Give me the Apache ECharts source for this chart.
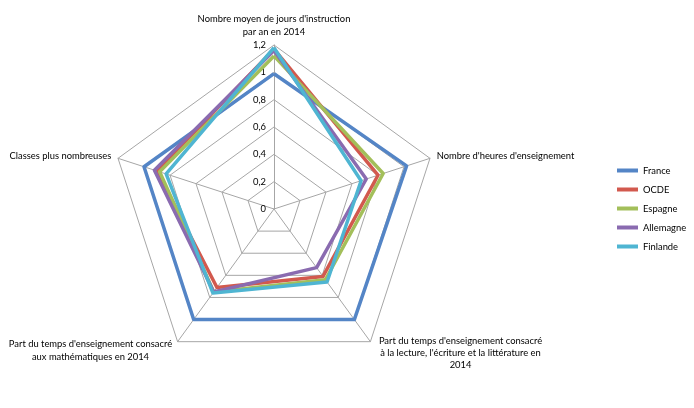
<!DOCTYPE html>
<html>
<head>
<meta charset="utf-8">
<script src="https://cdn.jsdelivr.net/npm/echarts@6/dist/echarts.min.js"></script>
<style>
  html, body { margin: 0; padding: 0; background: #fff; }
  #chart { width: 694px; height: 408px; }
</style>
</head>
<body>
<div id="chart"></div>
<script>
// axes, in ECharts order (top, then counter-clockwise)
var indicators = [
    "Nombre moyen de jours d'instruction\npar an en 2014",
    'Classes plus nombreuses',
    "Part du temps d'enseignement consacré\naux mathématiques en 2014",
    "Part du temps d'enseignement consacré\nà la lecture, l'écriture et la littérature en\n2014",
    "Nombre d'heures d'enseignement"
];
var countries = ['France', 'OCDE', 'Espagne', 'Allemagne', 'Finlande'];
var colors = ['#5485c6', '#d2594e', '#a3bf5a', '#8a6bb0', '#4fb5d2'];

var franceValues    = [0.99, 1.00, 1.00, 1.00, 1.02];
var ocdeValues      = [1.17, 0.90, 0.71, 0.61, 0.80];
var espagneValues   = [1.12, 0.88, 0.75, 0.64, 0.84];
var allemagneValues = [1.16, 0.92, 0.75, 0.53, 0.71];
var finlandeValues  = [1.18, 0.83, 0.76, 0.66, 0.67];

var allValues = [franceValues, ocdeValues, espagneValues, allemagneValues, finlandeValues];

window.addEventListener('load', function() {
    var chart = echarts.init(document.getElementById('chart'));
    var font = 'Lato';
    var fs = 9.4;

    chart.setOption({
        color: colors,
        animation: false,
        legend: {
            orient: 'vertical',
            left: 617,
            top: 166,
            padding: 0,
            itemWidth: 21,
            itemHeight: 4,
            itemGap: 10,
            icon: 'rect',
            data: countries,
            textStyle: { fontFamily: font, fontSize: fs, color: '#000' }
        },
        radar: {
            center: [274, 209],
            radius: 164,
            startAngle: 90,
            splitNumber: 6,
            shape: 'polygon',
            nameGap: 7,
            indicator: indicators.map(function(name, i) {
                var ind = { name: name, min: 0, max: 1.2 };
                if (i === 0) {
                    ind.axisLabel = {
                        show: true,
                        fontFamily: font,
                        fontSize: fs,
                        color: '#000',
                        margin: 8,
                        formatter: function(v) {
                            return String(Math.round(v * 10) / 10).replace('.', ',');
                        }
                    };
                }
                return ind;
            }),
            axisName: {
                color: '#000',
                fontFamily: font,
                fontSize: fs,
                lineHeight: 13,
                formatter: function(name) {
                    var lines = name.split('\n');
                    // a blank line on top pushes the block down under the vertex
                    if (name.indexOf('lecture') >= 0) {
                        return '{e1| }\n{w1|' + lines.join('}\n{w1|') + '}';
                    }
                    if (name.indexOf('mathématiques') >= 0) {
                        return '{e2| }\n{w2|' + lines.join('}\n{w2|') + '}';
                    }
                    return name;
                },
                rich: {
                    e1: { fontFamily: font, fontSize: 4, lineHeight: 12 },
                    e2: { fontFamily: font, fontSize: 4, lineHeight: 6 },
                    w1: { width: 172, align: 'center', fontFamily: font, fontSize: fs, lineHeight: 12, color: '#000' },
                    w2: { width: 166, align: 'center', fontFamily: font, fontSize: fs, lineHeight: 13, color: '#000' }
                }
            },
            axisLine: { lineStyle: { color: '#a6a6a6', width: 1 } },
            splitLine: { lineStyle: { color: '#a6a6a6', width: 1 } },
            splitArea: { show: false },
            axisTick: { show: false },
            axisLabel: { show: false }
        },
        series: [{
            type: 'radar',
            symbol: 'none',
            data: allValues.map(function(vals, i) {
                return {
                    name: countries[i],
                    value: vals,
                    lineStyle: { color: colors[i], width: 3.5 },
                    itemStyle: { color: colors[i] }
                };
            })
        }]
    });
});
</script>
</body>
</html>
